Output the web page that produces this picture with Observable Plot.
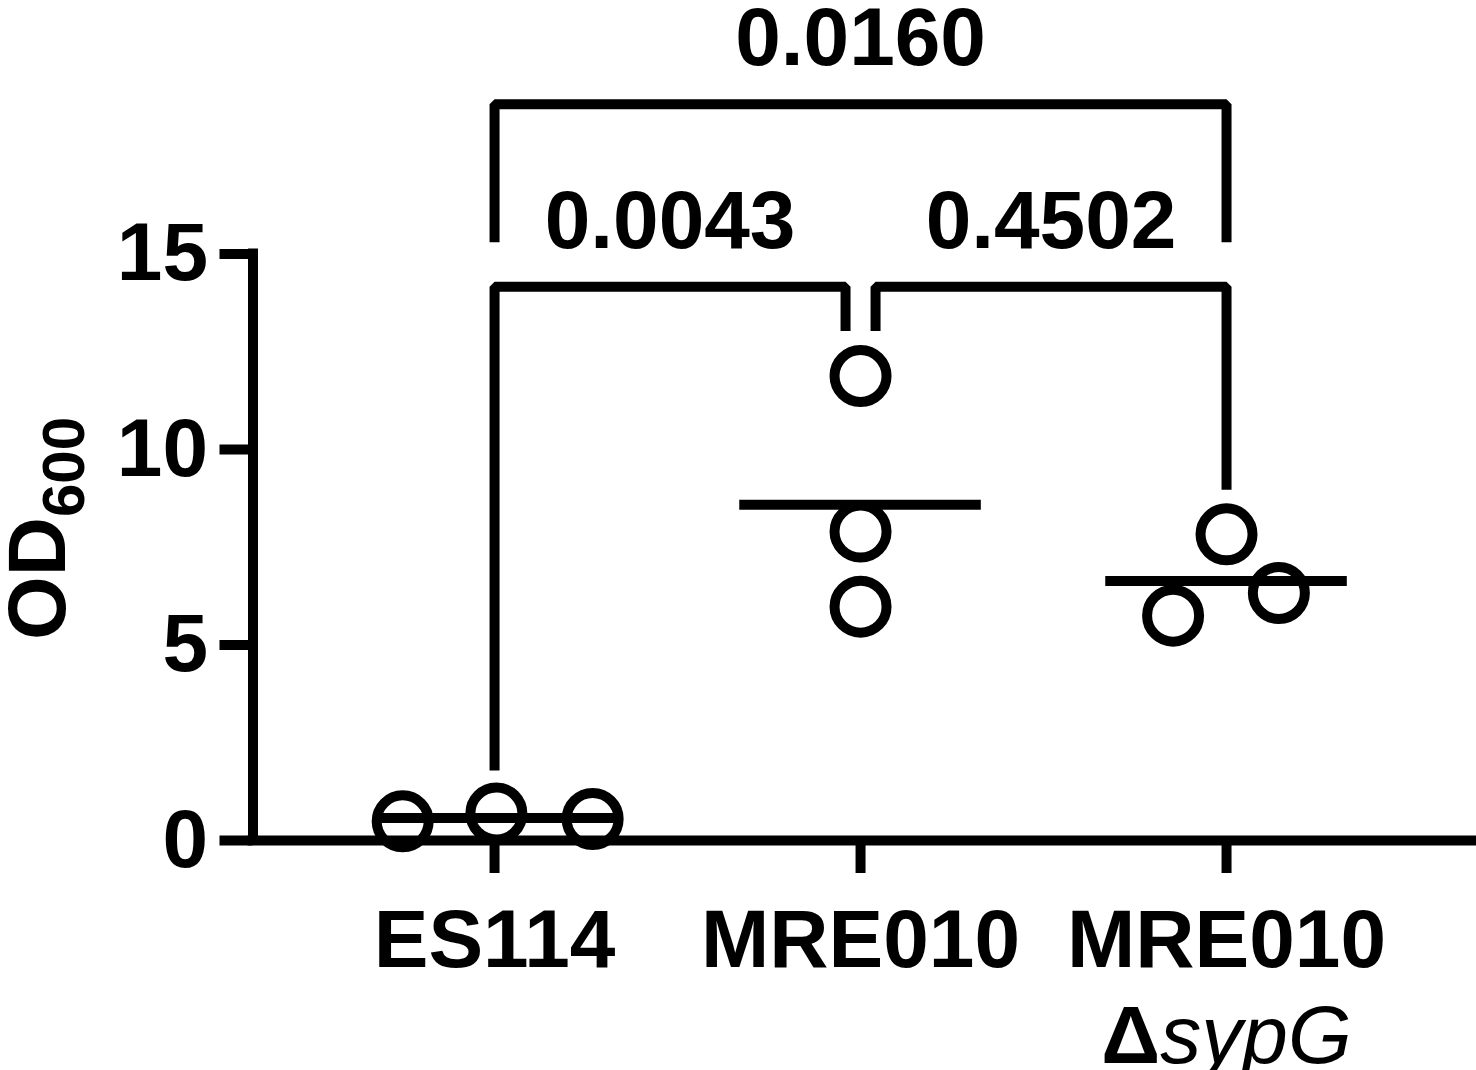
<!DOCTYPE html>
<html>
<head>
<meta charset="utf-8">
<script src="https://cdn.jsdelivr.net/npm/d3@7"></script>
<script src="https://cdn.jsdelivr.net/npm/@observablehq/plot@0.6"></script>
<style>
  html, body { margin: 0; padding: 0; background: #fff; }
</style>
</head>
<body>
<div id="chart"></div>
<script>
// ---- data ----
const groups = ["ES114", "MRE010", "MRE010\nΔsypG"];
const groupIndex = [0, 0, 0, 1, 1, 1, 2, 2, 2];
const od600 = [0.49, 0.69, 0.55, 11.88, 7.90, 5.98, 5.75, 7.83, 6.33];
const jitter = [-0.251, 0.005, 0.268, 0, 0, 0, -0.146, 0, 0.143];
const yTicks = [0, 5, 10, 15];

const compFrom = [0, 1, 0];
const compTo = [1, 2, 2];
const pValues = ["0.0043", "0.4502", "0.0160"];
const bracketLevel = [14.16, 14.16, 18.83];
const legFromBottom = [1.79, 13.03, 15.3];
const legToBottom = [13.03, 8.97, 15.3];

// ---- derived tables ----
const points = od600.map((v, i) => ({g: groupIndex[i], x: groupIndex[i] + jitter[i], y: v}));
const means = groups.map((_, g) => ({g, y: d3.mean(points.filter(p => p.g === g), p => p.y)}));

const gap = 0.041; // half-gap where two brackets at the same level meet
const comps = compFrom.map((a, i) => {
  const b = compTo[i];
  const sharedA = compTo.some((t, j) => j !== i && t === a && bracketLevel[j] === bracketLevel[i]);
  const sharedB = compFrom.some((f, j) => j !== i && f === b && bracketLevel[j] === bracketLevel[i]);
  return {id: i, xa: a + (sharedA ? gap : 0), xb: b - (sharedB ? gap : 0),
          level: bracketLevel[i], lowA: legFromBottom[i], lowB: legToBottom[i], p: pValues[i]};
});
const bracketPts = comps.flatMap(c => [
  {id: c.id, x: c.xa, y: c.lowA},
  {id: c.id, x: c.xa, y: c.level},
  {id: c.id, x: c.xb, y: c.level},
  {id: c.id, x: c.xb, y: c.lowB}
]);

const W = 1476, H = 1070;
const chart = Plot.plot({
  width: W,
  height: H,
  marginLeft: 252.5,
  marginRight: 0,
  marginTop: 0,
  marginBottom: 230,
  x: {domain: [-0.66, 2.683], axis: null},
  y: {domain: [0, 840 / 39.1], axis: null},
  style: {fontFamily: "'Liberation Sans', Arial, sans-serif", fontSize: "82px", fontWeight: "bold", color: "#000", background: "#fff"},
  marks: [
    // axis lines
    Plot.ruleY([0], {stroke: "#000", strokeWidth: 10, strokeLinecap: "square"}),
    Plot.ruleX([-0.66], {y1: 0, y2: 15, stroke: "#000", strokeWidth: 10, strokeLinecap: "square"}),
    Plot.axisY({ticks: yTicks, tickSize: 33, tickPadding: 12, strokeWidth: 10, stroke: "#000", label: null, tickFormat: d => String(d)}),
    Plot.axisX({ticks: [0, 1, 2], tickFormat: i => groups[i], tickSize: 33, tickPadding: 25, strokeWidth: 10, stroke: "#000", label: null, lineHeight: 1.17}),
    // mean lines
    Plot.ruleY(means, {y: "y", x1: d => d.g - 0.33, x2: d => d.g + 0.33, stroke: "#000", strokeWidth: 10}),
    // points
    Plot.dot(points, {x: "x", y: "y", r: 26, stroke: "#000", strokeWidth: 10, fill: "none"}),
    // brackets
    Plot.line(bracketPts, {x: "x", y: "y", z: "id", stroke: "#000", strokeWidth: 10, strokeLinejoin: "miter", strokeLinecap: "butt"}),
    Plot.text(comps, {x: d => (d.xa + d.xb) / 2, y: "level", text: "p", dy: -39, lineAnchor: "bottom", textAnchor: "middle", fill: "#000"}),
    // y label
    Plot.text(["OD600"], {text: d => d, frameAnchor: "left", dx: -188, dy: 108, rotate: -90, textAnchor: "middle", lineAnchor: "bottom", fill: "#000"})
  ]
});

document.getElementById("chart").appendChild(chart);

// rich text: subscript and italic gene name
d3.select(chart).selectAll("text").each(function() {
  const t = d3.select(this);
  if (this.textContent === "OD600" && this.childNodes.length === 1) {
    t.text("");
    t.append("tspan").text("OD");
    t.append("tspan").attr("font-size", "60px").attr("dy", 19).text("600");
  }
});
d3.select(chart).selectAll("tspan").each(function() {
  if (this.textContent === "ΔsypG") {
    const t = d3.select(this);
    t.text("Δ");
    t.append("tspan").attr("font-style", "italic").attr("font-weight", "normal").text("sypG");
  }
});
</script>
</body>
</html>
